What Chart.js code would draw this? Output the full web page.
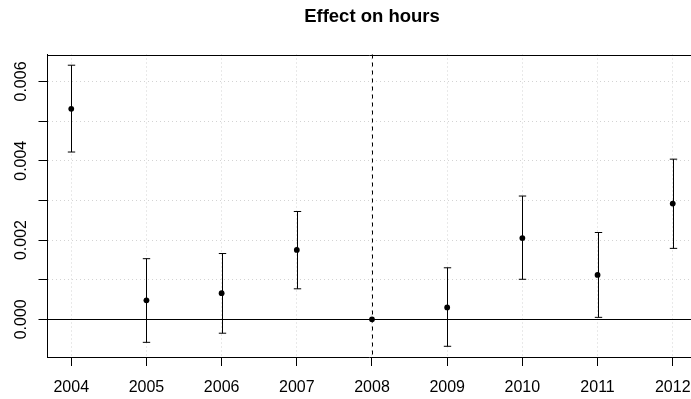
<!DOCTYPE html>
<html>
<head>
<meta charset="utf-8">
<script src="https://cdn.jsdelivr.net/npm/chart.js@4/dist/chart.umd.min.js"></script>
<style>
  html, body { margin: 0; padding: 0; background: #ffffff; overflow: hidden; }
  canvas { display: block; }
</style>
</head>
<body>
<canvas id="c" width="691" height="399"></canvas>
<script>
// Event-study estimates: effect on hours by year, with 95% confidence bounds
const years    = [2004, 2005, 2006, 2007, 2008, 2009, 2010, 2011, 2012];
const estimate = [0.00531, 0.00048, 0.00066, 0.00175, 0.0, 0.00030, 0.00205, 0.00112, 0.00292];
const lower    = [0.00422, -0.00058, -0.00035, 0.00077, null, -0.00068, 0.00101, 0.00005, 0.00179];
const upper    = [0.00641, 0.00153, 0.00166, 0.00272, null, 0.00130, 0.00311, 0.00219, 0.00404];
const yTicks   = [0, 0.001, 0.002, 0.003, 0.004, 0.005, 0.006];
const yLabels  = ['0.000', '', '0.002', '', '0.004', '', '0.006'];
const referenceYear = 2008;
const titleText = 'Effect on hours';

const FONT = '"Liberation Sans", Arial, Helvetica, sans-serif';

const decorations = {
  id: 'decorations',
  beforeDatasetsDraw(chart) {
    const { ctx, chartArea: a, scales: { x, y } } = chart;
    ctx.save();
    ctx.strokeStyle = '#000';
    ctx.lineWidth = 1;
    // horizontal reference line at zero
    const y0 = Math.round(y.getPixelForValue(0)) + 0.5;
    ctx.beginPath(); ctx.moveTo(a.left, y0); ctx.lineTo(a.right, y0); ctx.stroke();
    // dashed vertical line at the reference year
    const xr = Math.round(x.getPixelForValue(referenceYear)) + 0.5;
    ctx.setLineDash([4, 4]);
    ctx.beginPath(); ctx.moveTo(xr, a.top); ctx.lineTo(xr, a.bottom); ctx.stroke();
    ctx.setLineDash([]);
    // confidence intervals with caps
    const cap = 3.7;
    years.forEach((yr, i) => {
      if (lower[i] === null || upper[i] === null) return;
      const px = Math.round(x.getPixelForValue(yr)) + 0.5;
      const lo = y.getPixelForValue(lower[i]);
      const hi = y.getPixelForValue(upper[i]);
      ctx.beginPath();
      ctx.moveTo(px, lo); ctx.lineTo(px, hi);
      ctx.moveTo(px - cap, hi); ctx.lineTo(px + cap, hi);
      ctx.moveTo(px - cap, lo); ctx.lineTo(px + cap, lo);
      ctx.stroke();
    });
    ctx.restore();
  },
  afterDraw(chart) {
    const { ctx, chartArea: a, scales: { x, y } } = chart;
    ctx.save();
    // top edge of the plot box
    ctx.strokeStyle = '#000';
    ctx.lineWidth = 1;
    const top = Math.round(a.top) + 0.5;
    ctx.beginPath(); ctx.moveTo(a.left, top); ctx.lineTo(a.right, top); ctx.stroke();
    ctx.fillStyle = '#000';
    ctx.font = '16px ' + FONT;
    ctx.textAlign = 'center';
    ctx.textBaseline = 'alphabetic';
    // year labels under the tick marks
    years.forEach(yr => {
      ctx.fillText(String(yr), x.getPixelForValue(yr), 392);
    });
    // rotated y tick labels
    yTicks.forEach((v, i) => {
      if (!yLabels[i]) return;
      ctx.save();
      ctx.translate(25.5, y.getPixelForValue(v));
      ctx.rotate(-Math.PI / 2);
      ctx.fillText(yLabels[i], 0, 0);
      ctx.restore();
    });
    // title, centred over the plotting region
    ctx.font = 'bold 18.5px ' + FONT;
    ctx.fillText(titleText, x.getPixelForValue(referenceYear), 22);
    ctx.restore();
  }
};

new Chart(document.getElementById('c'), {
  type: 'scatter',
  data: {
    datasets: [{
      data: years.map((yr, i) => ({ x: yr, y: estimate[i] })),
      backgroundColor: '#000',
      borderColor: '#000',
      pointRadius: 2.9,
      pointHoverRadius: 2.9,
      borderWidth: 0
    }]
  },
  options: {
    responsive: false,
    devicePixelRatio: 1,
    animation: false,
    events: [],
    layout: { autoPadding: false, padding: { top: 54.5, left: 0, right: 0, bottom: 0 } },
    plugins: { legend: { display: false }, tooltip: { enabled: false }, title: { display: false } },
    scales: {
      x: {
        type: 'linear',
        min: 2003.684,
        max: 2012.243,
        afterBuildTicks: s => { s.ticks = years.map(v => ({ value: v })); },
        afterFit: s => { s.height = 42; s.paddingLeft = 0; s.paddingRight = 0; },
        ticks: { display: false },
        grid: {
          color: '#d3d3d3',
          lineWidth: 1,
          drawTicks: true,
          tickLength: 9,
          tickColor: '#000',
          tickWidth: 1,
          tickBorderDash: []
        },
        border: { display: true, color: '#000', width: 1, dash: [1, 3] }
      },
      y: {
        type: 'linear',
        min: -0.00095,
        max: 0.00668,
        afterBuildTicks: s => { s.ticks = yTicks.map(v => ({ value: v })); },
        afterFit: s => { s.width = 47.5; s.paddingTop = 0; s.paddingBottom = 0; },
        ticks: { display: false },
        grid: {
          color: '#d3d3d3',
          lineWidth: 1,
          drawTicks: true,
          tickLength: 9,
          tickColor: '#000',
          tickWidth: 1,
          tickBorderDash: []
        },
        border: { display: true, color: '#000', width: 1, dash: [1, 3] }
      }
    }
  },
  plugins: [decorations]
});
</script>
</body>
</html>
